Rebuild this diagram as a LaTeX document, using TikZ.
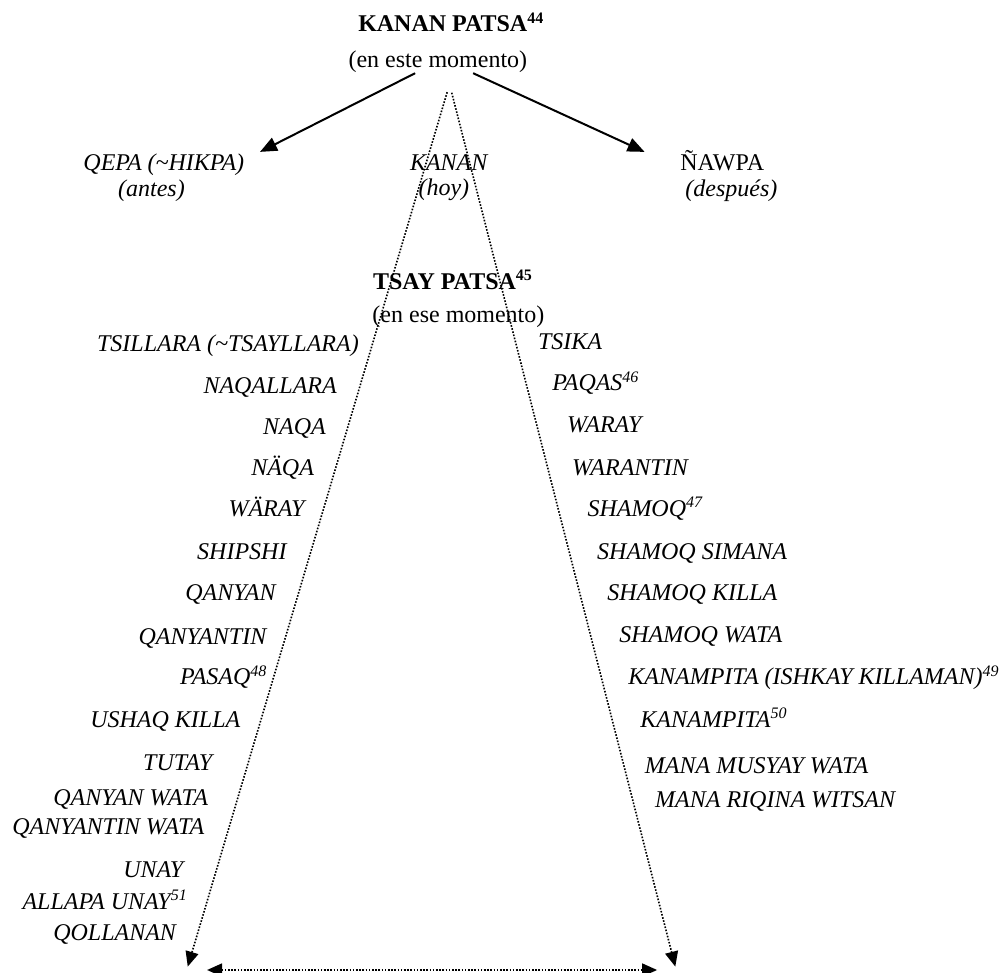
\documentclass[tikz,border=0pt]{standalone}
\usepackage{fontspec}
\setmainfont{Liberation Serif}
\usetikzlibrary{arrows.meta}

\begin{document}
\begin{tikzpicture}[
  font=\fontsize{12}{14}\selectfont,
  ttl/.style={font=\fontsize{12}{14}\selectfont\bfseries, inner sep=0pt, anchor=base west},
  sub/.style={inner sep=0pt, anchor=base west},
  itm/.style={font=\fontsize{12}{14}\selectfont\itshape, inner sep=0pt, anchor=base west},
  arr/.style={-{Triangle[length=8.5pt, width=7pt]}, line width=1pt},
  dotarr/.style={-{Triangle[length=7.5pt, width=6.5pt]}, line width=0.8pt, dash pattern=on 0.8pt off 0.8pt},
]
  \useasboundingbox (0,0) rectangle (17.63,-17.10);
  % heading
  \node[ttl] (kpatsa) at (6.29,-0.56) {KANAN PATSA\textsuperscript{44}};
  \node[sub] (este) at (6.12,-1.19) {(en este momento)};
  \node[itm] (qepa) at (1.46,-2.99) {QEPA (\textasciitilde HIKPA)};
  \node[itm] (antes) at (2.07,-3.46) {(antes)};
  \node[itm] (kanan) at (7.20,-2.99) {KANAN};
  \node[itm] (hoy) at (7.35,-3.44) {(hoy)};
  \node[sub] (nawpa) at (11.95,-2.99) {ÑAWPA};
  \node[itm] (despues) at (12.04,-3.46) {(después)};
  \node[ttl] (tpatsa) at (6.55,-5.08) {TSAY PATSA\textsuperscript{45}};
  \node[sub] (ese) at (6.54,-5.66) {(en ese momento)};
  % left column
  \node[itm] (tsillara) at (1.70,-6.17) {TSILLARA (\textasciitilde TSAYLLARA)};
  \node[itm] (naqallara) at (3.57,-6.91) {NAQALLARA};
  \node[itm] (naqa) at (4.62,-7.64) {NAQA};
  \node[itm] (naeqa) at (4.41,-8.36) {NÄQA};
  \node[itm] (waeray) at (4.01,-9.07) {WÄRAY};
  \node[itm] (shipshi) at (3.46,-9.84) {SHIPSHI};
  \node[itm] (qanyan) at (3.25,-10.56) {QANYAN};
  \node[itm] (qanyantin) at (2.43,-11.32) {QANYANTIN};
  \node[itm] (pasaq) at (3.16,-12.04) {PASAQ\textsuperscript{48}};
  \node[itm] (ushaq) at (1.58,-12.79) {USHAQ KILLA};
  \node[itm] (tutay) at (2.51,-13.55) {TUTAY};
  \node[itm] (qwata) at (0.93,-14.15) {QANYAN WATA};
  \node[itm] (qtwata) at (0.21,-14.67) {QANYANTIN WATA};
  \node[itm] (unay) at (2.16,-15.43) {UNAY};
  \node[itm] (allapa) at (0.39,-15.99) {ALLAPA UNAY\textsuperscript{51}};
  \node[itm] (qollanan) at (0.93,-16.54) {QOLLANAN};
  % right column
  \node[itm] (tsika) at (9.45,-6.15) {TSIKA};
  \node[itm] (paqas) at (9.70,-6.87) {PAQAS\textsuperscript{46}};
  \node[itm] (waray) at (9.96,-7.61) {WARAY};
  \node[itm] (warantin) at (10.05,-8.35) {WARANTIN};
  \node[itm] (shamoq) at (10.32,-9.07) {SHAMOQ\textsuperscript{47}};
  \node[itm] (simana) at (10.49,-9.84) {SHAMOQ SIMANA};
  \node[itm] (skilla) at (10.67,-10.56) {SHAMOQ KILLA};
  \node[itm] (swata) at (10.88,-11.30) {SHAMOQ WATA};
  \node[itm] (ishkay) at (11.04,-12.04) {KANAMPITA (ISHKAY KILLAMAN)\textsuperscript{49}};
  \node[itm] (kanampita) at (11.25,-12.79) {KANAMPITA\textsuperscript{50}};
  \node[itm] (musyay) at (11.33,-13.60) {MANA MUSYAY WATA};
  \node[itm] (riqina) at (11.51,-14.20) {MANA RIQINA WITSAN};
  % free ends
  \coordinate (qtip) at (4.57,-2.67);
  \coordinate (ntip) at (11.33,-2.67);
  \coordinate (ltop) at (7.86,-1.62);
  \coordinate (rtop) at (7.94,-1.63);
  \coordinate (lbot) at (3.30,-16.99);
  \coordinate (rbot) at (11.87,-16.99);
  \coordinate (hleft) at (3.64,-17.05);
  \coordinate (hright) at (11.55,-17.05);
  \draw[arr] ([xshift=-0.40cm]este.south) -- (qtip);
  \draw[arr] ([xshift=0.62cm]este.south) -- (ntip);
  \draw[dotarr] (ltop) -- (lbot);
  \draw[dotarr] (rtop) -- (rbot);
  \draw[dotarr, {Triangle[length=7.5pt, width=6.5pt]}-{Triangle[length=7.5pt, width=6.5pt]}] (hleft) -- (hright);
\end{tikzpicture}
\end{document}
